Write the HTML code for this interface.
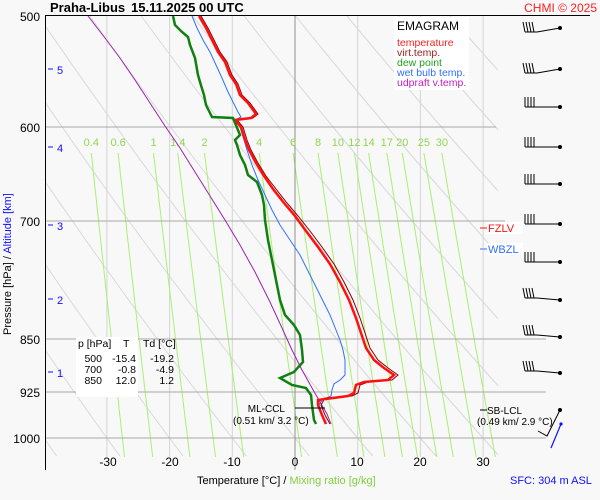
<!DOCTYPE html>
<html><head><meta charset="utf-8"><style>
body{margin:0;background:#f8f8f8;}
svg{display:block;font-family:"Liberation Sans",sans-serif;}
</style></head><body>
<svg id="s" width="600" height="500" xmlns="http://www.w3.org/2000/svg">
<rect width="600" height="500" fill="#f8f8f8"/>
<g id="grid"></g>
<g stroke="#a8a8a8" stroke-width="1">
<line x1="45" y1="127" x2="496" y2="127"/>
<line x1="45" y1="221" x2="505" y2="221"/>
<line x1="45" y1="339" x2="546" y2="339"/>
<line x1="45" y1="392" x2="546" y2="392"/>
<line x1="45" y1="438" x2="546" y2="438"/>
</g>
<line x1="295" y1="16" x2="295" y2="470" stroke="#909090"/>
<line x1="45" y1="15.5" x2="590" y2="15.5" stroke="#000" stroke-width="1"/>
<line x1="45.5" y1="15" x2="45.5" y2="470" stroke="#000" stroke-width="1"/>
<rect x="394" y="17" width="75" height="73" fill="#fff"/>
<g font-size="10.5">
<text x="397" y="30" font-size="12" fill="#000">EMAGRAM</text>
<text x="397" y="46" fill="#ff2020">temperature</text>
<text x="397" y="56" fill="#a02020">virt.temp.</text>
<text x="397" y="66" fill="#20a020">dew point</text>
<text x="397" y="76" fill="#3070ff">wet bulb temp.</text>
<text x="397" y="86" fill="#c020c0">udpraft v.temp.</text>
</g>
<text x="50" y="12" font-size="13" font-weight="bold">Praha-Libus</text>
<text x="131" y="12" font-size="13" font-weight="bold">15.11.2025 00 UTC</text>
<text x="597" y="12" font-size="12" fill="#ff2020" text-anchor="end">CHMI © 2025</text>
<g font-size="12" text-anchor="end">
<text x="40" y="21">500</text><text x="40" y="132">600</text><text x="40" y="226">700</text>
<text x="40" y="344">850</text><text x="40" y="397">925</text><text x="40" y="443">1000</text>
</g>
<g font-size="11" fill="#1010ff">
<text x="57" y="74">5</text><text x="57" y="152">4</text><text x="57" y="230">3</text><text x="57" y="304">2</text><text x="57" y="377">1</text>
</g>
<g stroke="#1010ff"><line x1="48" y1="69" x2="53" y2="69"/><line x1="48" y1="147" x2="53" y2="147"/><line x1="48" y1="225" x2="53" y2="225"/><line x1="48" y1="299" x2="53" y2="299"/><line x1="48" y1="372" x2="53" y2="372"/></g>
<text transform="translate(11,335) rotate(-90)" font-size="11"><tspan fill="#000">Pressure [hPa]  /  </tspan><tspan fill="#1010ff">Altitude [km]</tspan></text>
<g font-size="12" text-anchor="middle">
<text x="108" y="466">-30</text><text x="170" y="466">-20</text><text x="232" y="466">-10</text><text x="295" y="466">0</text>
<text x="357" y="466">10</text><text x="420" y="466">20</text><text x="483" y="466">30</text>
</g>
<text x="197" y="484" font-size="11">Temperature [°C]  /  <tspan fill="#80d040">Mixing ratio [g/kg]</tspan></text>
<text x="510" y="484" font-size="11" fill="#1010ff">SFC: 304 m ASL</text>
<rect x="76" y="337" width="62" height="60" fill="#fff"/>
<g font-size="10.5">
<text x="78" y="347">p [hPa]</text><text x="123" y="347">T</text><text x="143" y="347">Td [°C]</text>
<g text-anchor="end">
<text x="102" y="362">500</text><text x="136" y="362">-15.4</text><text x="174" y="362">-19.2</text>
<text x="102" y="373">700</text><text x="136" y="373">-0.8</text><text x="174" y="373">-4.9</text>
<text x="102" y="384">850</text><text x="136" y="384">12.0</text><text x="174" y="384">1.2</text>
</g></g>
<g id="mix" font-size="11" fill="#90d850" text-anchor="middle"></g>
<polyline fill="none" stroke-width="1" points="88,16 105,38 120,58 135,80 150,103 165,126 180,148 195,172 210,196 225,220 240,245 255,272 270,302 282,328 292,350 302,370 312,388 320,402 327,414 331,424" style="stroke:#a020b0"/>
<polyline fill="none" stroke="#3070ff" stroke-width="1" points="192,16 197,28 203,40 210,52 216,65 222,78 228,92 234,104 238,112 241,117 235,120 240,127 244,140 247,150 252,165 258,180 265,195 272,210 280,225 290,240 300,255 310,275 320,295 330,315 336,330 340,340 343,350 345,360 345,375 340,380 334,384 332,390 331,396 322,400 319,405 322,415 325,424"/>
<polyline fill="none" stroke="#8b0000" stroke-width="1" points="201,16 208,28 214,40 220,52 227,62 232,75 238,84 242,95 250,103 258,114 253,118 237,120 243,127 247,140 251,150 258,163 266,176 276,189 287,203 298,216 310,231 322,247 334,264 344,282 353,300 360,318 365,333 370,348 378,360 388,368 398,375 392,380 368,382 360,385 358,393 352,396 325,398 321,405 325,415 330,424"/>
<polyline fill="none" stroke="#ff1010" stroke-width="2.5" points="199,16 206,28 212,40 218,52 225,62 230,75 236,84 240,95 248,103 256,114 251,118 235,120 241,127 245,140 249,150 256,163 264,176 273,189 284,203 295,216 306,231 318,247 330,264 340,282 349,300 356,318 361,333 366,348 374,360 384,368 394,375 388,380 364,382 356,385 354,393 348,396 318,400 318,405 322,415 326,424"/>
<polyline fill="none" stroke="#108010" stroke-width="2.5" points="173,16 175,25 182,32 188,37 190,45 195,58 198,75 200,82 204,95 206,105 210,113 212,117 233,118 240,135 235,140 237,145 240,155 245,165 248,175 257,182 262,195 264,205 265,220 268,240 272,260 276,280 280,300 285,315 294,325 300,335 302,350 303,362 294,372 280,378 292,385 306,388 311,395 312,405 314,420 316,424"/>
<line x1="295" y1="408" x2="325" y2="408" stroke="#000"/>
<text x="285" y="412" font-size="10" text-anchor="end">ML-CCL</text>
<text x="233" y="424" font-size="10">(0.51 km/ 3.2 °C)</text>
<line x1="480" y1="410" x2="487" y2="410" stroke="#000"/>
<text x="487" y="414" font-size="10">SB-LCL</text>
<text x="477" y="425" font-size="10">(0.49 km/ 2.9 °C)</text>
<line x1="480" y1="228" x2="487" y2="228" stroke="#ff1010"/>
<rect x="487" y="222" width="36" height="12" fill="#fff"/>
<text x="488" y="232" font-size="11" fill="#ff1010">FZLV</text>
<line x1="480" y1="249" x2="487" y2="249" stroke="#3070ff"/>
<rect x="487" y="243" width="36" height="12" fill="#fff"/>
<text x="488" y="253" font-size="11" fill="#3070ff">WBZL</text>
<g id="wind" stroke="#000" fill="none"></g>
<path d="M551,448 L561,424" stroke="#1010ff" stroke-width="1.2"/>
<circle cx="561" cy="424" r="1.6" fill="#1010ff"/>
</svg>
<script>
var NS="http://www.w3.org/2000/svg";
function xt(t){return 295+6.27*t;}
function pe(y){return 500*Math.exp((y-16)/609);}
function el(tag,a,par){var e=document.createElementNS(NS,tag);for(var k in a)e.setAttribute(k,a[k]);document.getElementById(par).appendChild(e);return e;}
[-40,-30,-20,-10,10,20,30].forEach(function(t){var x=xt(t);if(x<46)return;el("line",{x1:x,y1:16,x2:x,y2:457,stroke:"#d4d4d4"},"grid");});
for(var th=-60;th<=200;th+=10){var pts=[];for(var y=16;y<=457;y+=4){var p=pe(y);var T=(th+273.15)*Math.pow(p/1000,0.286)-273.15;pts.push(xt(T).toFixed(1)+","+y);}
el("polyline",{points:pts.join(" "),fill:"none",stroke:"#d8d8d8"},"grid");}
var cl=el("clipPath",{id:"c"},"grid");var r=document.createElementNS(NS,"rect");r.setAttribute("x",46);r.setAttribute("y",16);r.setAttribute("width",452);r.setAttribute("height",441);cl.appendChild(r);
document.getElementById("grid").setAttribute("clip-path","url(#c)");
[0.4,0.6,1,1.4,2,4,6,8,10,12,14,17,20,25,30].forEach(function(w){var pts=[];var lx;for(var y=153;y<=457;y+=4){var p=pe(y);var e=w*p/(622+w);var a=Math.log(e/6.112);var T=243.5*a/(17.67-a);var x=xt(T);if(y==153)lx=x;pts.push(x.toFixed(1)+","+y);}
el("polyline",{points:pts.join(" "),fill:"none",stroke:"#a8f070"},"grid");
var t=el("text",{x:lx.toFixed(1),y:146},"mix");t.textContent=String(w);});
var wy=[28,69,107,147,184,224,262,300,337,373];
wy.forEach(function(y,i){var g="wind";var slant=(i<2||i>=7)?1:0;var x0=525,x1=560;var y0=y+(i<2?4:(i>=7?-2:0));
el("line",{x1:x0+12,y1:y0,x2:x1,y2:y},g);el("circle",{cx:x1,cy:y,r:1.5,fill:"#000"},g);
el("line",{x1:x0,y1:y0,x2:x0+12,y2:y0},g);
for(var k=0;k<4;k++){var bx=x0+k*3;el("line",{x1:bx,y1:y0,x2:bx+(slant?-2:0),y2:y0-10},g);}});
el("polyline",{points:"560,410 547,436 538,431"},"wind");el("circle",{cx:560,cy:410,r:1.5,fill:"#000"},"wind");
</script>
</body></html>
